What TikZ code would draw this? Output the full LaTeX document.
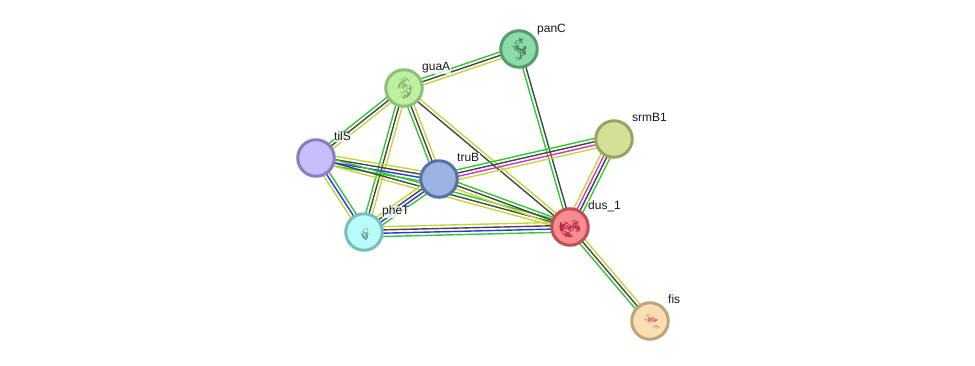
\documentclass[tikz,border=0pt]{standalone}
\usepackage{fontspec}
\setmainfont{Liberation Sans}
\usetikzlibrary{calc,backgrounds}
\definecolor{cGreen}{RGB}{50,200,50}
\definecolor{cDark}{RGB}{70,70,75}
\definecolor{cYellow}{RGB}{195,215,60}
\definecolor{cBlue}{RGB}{50,50,235}
\definecolor{cPink}{RGB}{210,50,210}
\definecolor{nPan}{RGB}{140,220,170}\definecolor{bPan}{RGB}{85,155,110}
\definecolor{nGua}{RGB}{190,240,160}\definecolor{bGua}{RGB}{140,190,125}
\definecolor{nTil}{RGB}{200,190,250}\definecolor{bTil}{RGB}{140,125,195}
\definecolor{nTru}{RGB}{155,180,225}\definecolor{bTru}{RGB}{85,115,165}
\definecolor{nPhe}{RGB}{185,250,250}\definecolor{bPhe}{RGB}{120,190,190}
\definecolor{nDus}{RGB}{250,140,145}\definecolor{bDus}{RGB}{190,80,85}
\definecolor{nSrm}{RGB}{212,224,150}\definecolor{bSrm}{RGB}{150,165,95}
\definecolor{nFis}{RGB}{252,222,180}\definecolor{bFis}{RGB}{190,165,120}
\tikzset{
  protein/.style={circle,draw=b#1,fill=n#1,line width=3pt,minimum size=36.5pt,inner sep=0pt},
  lbl/.style={font=\fontsize{12}{14}\selectfont,text=black!90,inner sep=.6pt,anchor=base west,
    fill=white,fill opacity=.8,text opacity=1},
  link/.style={line width=1.4pt},
  glyph/.style={line width=.35pt,line cap=round,line join=round}
}
% one evidence channel: a line parallel to the centre line, displaced by #4
\newcommand{\chan}[4]{\draw[link,#3] ($(#1)!#4*1.1pt!90:(#2)$) -- ($(#2)!#4*1.1pt!-90:(#1)$);}
% a folded chain: a random walk of short strokes held inside an ellipse
\newcommand{\tangle}[6]{%
  \gdef\px{0}\gdef\py{0}%
  \foreach \k in {1,...,#6}{
    \pgfmathsetmacro{\nx}{\px+7*(rnd-.5)}\pgfmathsetmacro{\ny}{\py+7*(rnd-.5)}
    \pgfmathsetmacro{\f}{min(1,1/sqrt((\nx/#4)^2+(\ny/#5)^2+0.001))}
    \pgfmathsetmacro{\qx}{\nx*\f}\pgfmathsetmacro{\qy}{\ny*\f}
    \draw[glyph,#2] ($(#1)+(#3)+(\px,\py)$) -- ($(#1)+(#3)+(\qx,\qy)$);
    \xdef\px{\qx}\xdef\py{\qy}
  }}
\begin{document}
\begin{tikzpicture}[x=1pt,y=-1pt]
\pgfmathsetseed{4217}
\useasboundingbox (0,0) rectangle (975,366);
\node[protein=Pan] (panC) at (519,49) {};
\node[protein=Gua] (guaA) at (404,88) {};
\node[protein=Til] (tilS) at (316,158) {};
\node[protein=Tru] (truB) at (439,179) {};
\node[protein=Phe] (pheT) at (364,232) {};
\node[protein=Dus] (dus) at (570,227) {};
\node[protein=Srm] (srmB) at (614,139) {};
\node[protein=Fis] (fis) at (650,321) {};
\begin{scope}[on background layer]
  \fill[white] (0,0) rectangle (975,366);
  \chan{guaA}{panC}{cGreen}{3}\chan{guaA}{panC}{cDark}{0}\chan{guaA}{panC}{cYellow}{-3}
  \chan{tilS}{guaA}{cGreen}{3}\chan{tilS}{guaA}{cDark}{0}\chan{tilS}{guaA}{cYellow}{-3}
  \chan{pheT}{guaA}{cGreen}{3}\chan{pheT}{guaA}{cDark}{0}\chan{pheT}{guaA}{cYellow}{-3}
  \chan{truB}{guaA}{cGreen}{3}\chan{truB}{guaA}{cDark}{0}\chan{truB}{guaA}{cYellow}{-3}
  \chan{guaA}{dus}{cYellow}{1.5}\chan{guaA}{dus}{cDark}{-1.5}
  \chan{dus}{panC}{cGreen}{1.5}\chan{dus}{panC}{cDark}{-1.5}
  \chan{tilS}{truB}{cYellow}{4.5}\chan{tilS}{truB}{cDark}{1.5}\chan{tilS}{truB}{cBlue}{-1.5}\chan{tilS}{truB}{cGreen}{-4.5}
  \chan{tilS}{dus}{cGreen}{3}\chan{tilS}{dus}{cDark}{0}\chan{tilS}{dus}{cYellow}{-3}
  \chan{tilS}{pheT}{cGreen}{3}\chan{tilS}{pheT}{cBlue}{0}\chan{tilS}{pheT}{cYellow}{-3}
  \chan{pheT}{truB}{cYellow}{4.5}\chan{pheT}{truB}{cDark}{1.5}\chan{pheT}{truB}{cBlue}{-1.5}\chan{pheT}{truB}{cGreen}{-4.5}
  \chan{pheT}{dus}{cYellow}{4.5}\chan{pheT}{dus}{cDark}{1.5}\chan{pheT}{dus}{cBlue}{-1.5}\chan{pheT}{dus}{cGreen}{-4.5}
  \chan{truB}{dus}{cGreen}{3}\chan{truB}{dus}{cDark}{0}\chan{truB}{dus}{cYellow}{-3}
  \chan{truB}{srmB}{cGreen}{4.5}\chan{truB}{srmB}{cDark}{1.5}\chan{truB}{srmB}{cPink}{-1.5}\chan{truB}{srmB}{cYellow}{-4.5}
  \chan{dus}{srmB}{cYellow}{4.5}\chan{dus}{srmB}{cPink}{1.5}\chan{dus}{srmB}{cDark}{-1.5}\chan{dus}{srmB}{cGreen}{-4.5}
  \chan{dus}{fis}{cYellow}{3}\chan{dus}{fis}{cDark}{0}\chan{dus}{fis}{cGreen}{-3}
\end{scope}
% small folded-chain sketches inside the structure-bearing nodes
\tangle{panC}{black!45!nPan}{0,0}{7}{11}{110}
\tangle{guaA}{black!35!nGua}{0,0}{7}{10}{90}
\tangle{pheT}{black!40!nPhe}{1,1}{3}{7}{50}
\tangle{dus}{purple!70!nDus!85!black}{0,0}{10}{10}{170}
\tangle{fis}{purple!55!nFis}{-1,-3}{9}{5}{40}
\tangle{fis}{black!25!nFis}{3,7}{7}{2.5}{14}
\node[lbl] (lp) at (536.4,33) {panC};
\node[lbl] (lg) at (421.4,71) {guaA};
\node[lbl] (lt) at (333.4,141) {tilS};
\node[lbl] (ltr) at (456.4,162) {truB};
\node[lbl] (lh) at (381.4,215) {pheT};
\node[lbl] (ld) at (587.4,210) {dus\_1};
\node[lbl] (ls) at (631.4,122) {srmB1};
\node[lbl] (lf) at (667.4,304) {fis};
\end{tikzpicture}
\end{document}
